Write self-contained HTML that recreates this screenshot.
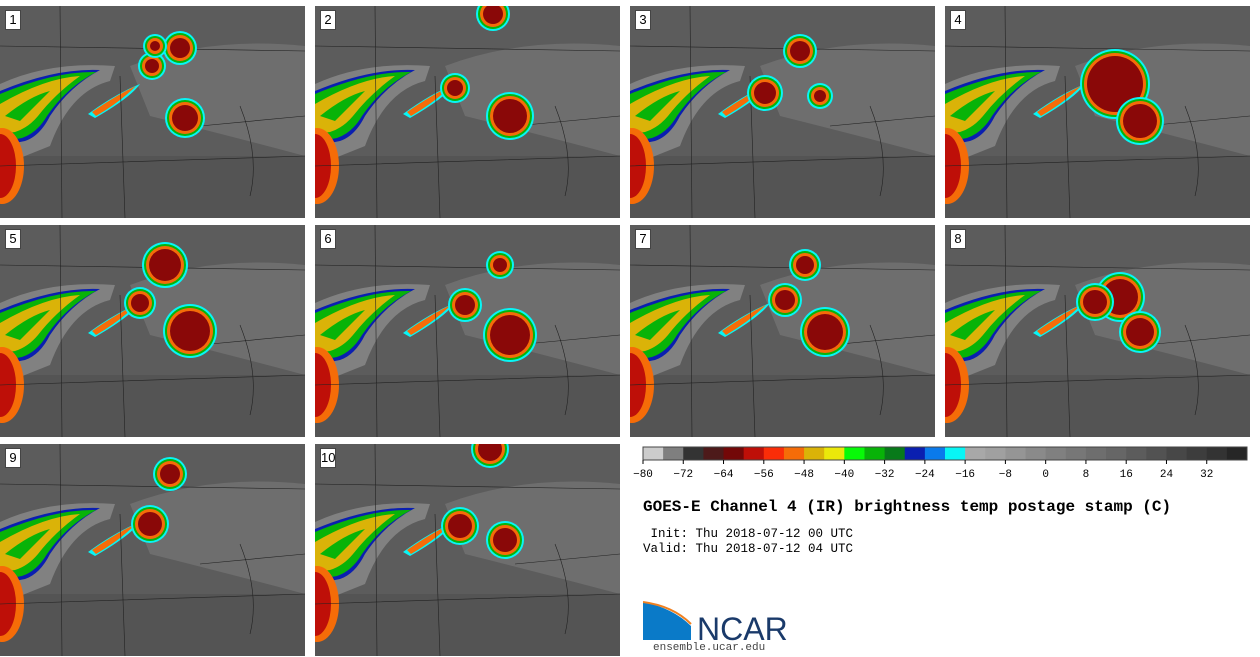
<!DOCTYPE html>
<html><head><meta charset="utf-8">
<style>
body{margin:0;width:1260px;height:657px;background:#fff;overflow:hidden;position:relative;font-family:"Liberation Mono",monospace}
.panel{position:absolute;width:305px;height:212px;overflow:hidden}
.num{position:absolute;left:5px;top:4px;width:14px;height:18px;background:#fff;border:1px solid #444;font:13px "Liberation Sans",sans-serif;text-align:center;line-height:18px}
</style></head><body>
<div id="panels"></div>
<svg id="cbar" style="position:absolute;left:630px;top:440px" width="630" height="40"></svg>
<div style="position:absolute;left:643px;top:498px;font:bold 16px 'Liberation Mono',monospace;color:#000">GOES-E Channel 4 (IR) brightness temp postage stamp (C)</div>
<div style="position:absolute;left:643px;top:527px;font:12.5px 'Liberation Mono',monospace;white-space:pre;line-height:15px"> Init: Thu 2018-07-12 00 UTC
Valid: Thu 2018-07-12 04 UTC</div>
<svg style="position:absolute;left:643px;top:600px" width="150" height="45">
<path d="M0 2 Q30 8 48 26 L48 40 L0 40 Z" fill="#0a7ac8"/>
<path d="M0 2 Q30 6 48 24" stroke="#f08020" stroke-width="2" fill="none"/>
<text x="54" y="40" font-family="Liberation Sans,sans-serif" font-size="32" fill="#1a3a6a">NCAR</text>
</svg>
<div style="position:absolute;left:653px;top:642px;font:11px 'Liberation Mono',monospace;color:#444">ensemble.ucar.edu</div>
<script>
const colors=["#cccccc","#7f7f7f","#333333","#4d1a1a","#730808","#be0f08","#fa2d08","#f56c08","#dab308","#ebe80a","#08fa08","#08b308","#087a1a","#0a1fb0","#0a7aeb","#08f5f5","#a8a8a8","#a0a0a0","#959595","#8a8a8a","#808080","#777777","#6e6e6e","#666666","#5c5c5c","#525252","#474747","#3d3d3d","#333333","#262626"];
const tickLabels=[-80,-72,-64,-56,-48,-40,-32,-24,-16,-8,0,8,16,24,32];
const panelNums=[1,2,3,4,5,6,7,8,9,10];
const storms=[[[180,42,10],[185,112,13],[152,60,7],[155,40,5]],[[195,110,17],[140,82,8],[178,8,10]],[[135,87,11],[170,45,10],[190,90,6]],[[170,78,28],[195,115,17]],[[190,106,20],[165,40,16],[140,78,9]],[[195,110,20],[150,80,10],[185,40,7]],[[195,107,18],[155,75,10],[175,40,9]],[[175,72,18],[195,107,14],[150,77,12]],[[150,80,12],[170,30,10]],[[190,96,12],[145,82,12],[175,5,12]]];
const NS="http://www.w3.org/2000/svg";
const cb=document.getElementById('cbar');
const x0=13,w=604,vmin=-80,vmax=40;
const sx=v=>x0+(v-vmin)/(vmax-vmin)*w;
colors.forEach((c,i)=>{const r=document.createElementNS(NS,'rect');


r.setAttribute('x',sx(vmin+i*4));r.setAttribute('y',7);r.setAttribute('width',w/30+0.5);r.setAttribute('height',13);r.setAttribute('fill',c);cb.appendChild(r);});
const bd=document.createElementNS(NS,'rect');bd.setAttribute('x',x0);bd.setAttribute('y',7);bd.setAttribute('width',w);bd.setAttribute('height',13);bd.setAttribute('fill','none');bd.setAttribute('stroke','#444');cb.appendChild(bd);
tickLabels.forEach(v=>{const t=document.createElementNS(NS,'text');


t.setAttribute('x',sx(v));t.setAttribute('y',37);t.setAttribute('text-anchor','middle');t.setAttribute('font-size','11');t.setAttribute('font-family','Liberation Mono,monospace');t.textContent=String(v).replace('-','\u2212');cb.appendChild(t);
const l=document.createElementNS(NS,'line');l.setAttribute('x1',sx(v));l.setAttribute('x2',sx(v));l.setAttribute('y1',20);l.setAttribute('y2',24);l.setAttribute('stroke','#000');cb.appendChild(l);});
const lefts=[0,315,630,945],tops=[6,225,444];
const host=document.getElementById('panels');
panelNums.forEach((n,i)=>{
const d=document.createElement('div');d.className='panel';


d.style.left=lefts[i%4]+'px';d.style.top=tops[Math.floor(i/4)]+'px';
let s=`<svg width="305" height="212" xmlns="${NS}"><rect width="305" height="212" fill="#5c5c5c"/>
<rect y="150" width="305" height="62" fill="#545454"/>
<path d="M130 60 Q210 30 305 40 L305 150 Q230 130 150 110Z" fill="#7a7a7a" opacity="0.6"/>
<path d="M0 78 Q50 55 115 60 L110 75 Q70 85 50 140 L0 160Z" fill="#b0b0b0" opacity="0.45"/>
<path d="M0 85 Q55 62 100 64 Q70 80 50 110 Q40 130 25 135 L0 140Z" fill="#0a1fb0"/>
<path d="M0 88 Q55 65 96 66 Q66 82 47 110 Q37 127 22 132 L0 136Z" fill="#08b308"/>
<path d="M0 98 Q45 72 80 70 Q55 88 38 110 Q28 122 15 126 L0 128Z" fill="#dab308"/>
<path d="M5 110 Q30 90 50 85 Q35 100 20 115Z" fill="#08b308"/>
<path d="M88 108 Q115 88 140 78 Q130 92 95 112Z" fill="#08f5f5"/>
<path d="M92 106 Q118 88 136 80 Q120 96 96 110Z" fill="#f56c08"/>
<ellipse cx="2" cy="160" rx="22" ry="38" fill="#f56c08"/>
<ellipse cx="0" cy="160" rx="16" ry="32" fill="#be0f08"/>
<path d="M0 40 L305 45 M60 0 L62 212 M120 70 L125 212 M0 160 L305 150 M200 120 L305 110 M240 100 Q260 150 250 190" stroke="#222" stroke-width="0.6" fill="none"/>`;
storms[i].forEach(([x,y,r])=>{s+=`<circle cx="${x}" cy="${y}" r="${r+7}" fill="#08f5f5"/><circle cx="${x}" cy="${y}" r="${r+5}" fill="#08b308"/><circle cx="${x}" cy="${y}" r="${r+3}" fill="#f56c08"/><circle cx="${x}" cy="${y}" r="${r}" fill="#8a0808"/>`;});
s+='</svg>';
d.innerHTML=s+`<div class="num">${n}</div>`;
host.appendChild(d);});
</script>
</body></html>
